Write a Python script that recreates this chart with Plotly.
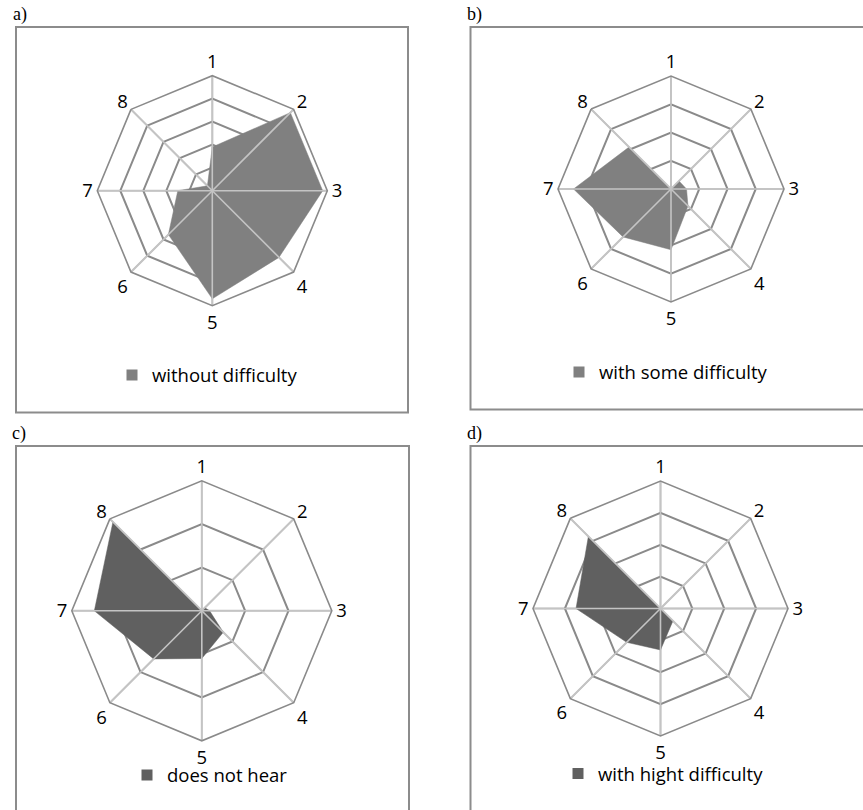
import plotly.graph_objects as go

W, H = 863, 810

# Response categories on the angular axis
categories = ["1", "2", "3", "4", "5", "6", "7", "8"]

# Values per category for each hearing group
without_difficulty = [19, 48, 48, 41, 47, 27, 15, 3]
with_some_difficulty = [0, 4, 5.5, 8.5, 21.5, 24, 34.5, 21]
does_not_hear = [0, 1, 1.8, 7, 11, 15.7, 24.8, 29]
with_hight_difficulty = [0, 0, 0, 5.5, 13, 15, 26.5, 32]

series_names = ["without difficulty", "with some difficulty",
                "does not hear", "with hight difficulty"]
panel_letters = ["a)", "b)", "c)", "d)"]
radial_max = [50, 40, 30, 40]

FONT = "Open Sans"
LIGHT = "#808080"
DARK = "#606060"
RING = "#8a8a8a"
SPOKE = "#c4c4c4"


def px(x):
    return x / W


def py(y):
    return 1 - y / H


# panel geometry in page pixels: centre x, centre y, outer radius
panels = [
    dict(cx=212.3, cy=190.7, R=115, color=LIGHT, values=without_difficulty,
         leg=(152, 375.5), lab=(11, 15), box=(16, 27, 408, 412.5)),
    dict(cx=671.0, cy=189.0, R=113, color=LIGHT, values=with_some_difficulty,
         leg=(599, 372.5), lab=(465, 15), box=(470.5, 27, 880, 409.5)),
    dict(cx=201.8, cy=610.8, R=130, color=DARK, values=does_not_hear,
         leg=(167, 775.5), lab=(10, 433), box=(16, 446, 409, 830)),
    dict(cx=660.5, cy=608.5, R=127.5, color=DARK, values=with_hight_difficulty,
         leg=(598, 774), lab=(465, 433), box=(470.5, 446, 880, 830)),
]

fig = go.Figure()
layout = dict(width=W, height=H, margin=dict(l=0, r=0, t=0, b=0),
              paper_bgcolor="white", plot_bgcolor="white",
              showlegend=True, shapes=[], annotations=[])

for i, p in enumerate(panels):
    sp = "polar" if i == 0 else f"polar{i + 1}"
    lg = "legend" if i == 0 else f"legend{i + 1}"
    vals = p["values"] + p["values"][:1]
    thetas = categories + categories[:1]

    fig.add_trace(go.Scatterpolar(
        r=vals, theta=thetas, subplot=sp, mode="lines", fill="toself",
        fillcolor=p["color"], line=dict(color=p["color"], width=0.5),
        showlegend=False, hoverinfo="skip"))

    # spokes drawn over the filled area
    spoke_r, spoke_t = [], []
    for c in categories:
        spoke_r += [0, radial_max[i], None]
        spoke_t += [c, c, None]
    fig.add_trace(go.Scatterpolar(
        r=spoke_r, theta=spoke_t, subplot=sp, mode="lines",
        line=dict(color=SPOKE, width=1.6), connectgaps=False,
        showlegend=False, hoverinfo="skip"))

    # legend swatch
    fig.add_trace(go.Scatterpolar(
        r=[None], theta=[None], subplot=sp, mode="markers",
        marker=dict(symbol="square", size=11, color=p["color"]),
        name=series_names[i], legend=lg, showlegend=True))

    cx, cy, R = p["cx"], p["cy"], p["R"]
    layout[sp] = dict(
        domain=dict(x=[px(cx - R), px(cx + R)], y=[py(cy + R), py(cy - R)]),
        bgcolor="rgba(0,0,0,0)",
        gridshape="linear",
        radialaxis=dict(range=[0, radial_max[i]], dtick=10, showline=False,
                        showticklabels=False, ticks="", gridcolor=RING,
                        gridwidth=1.6),
        angularaxis=dict(type="category", categoryorder="array",
                         categoryarray=categories, direction="clockwise",
                         rotation=90, showline=True, linecolor=RING,
                         linewidth=1.6, gridcolor=SPOKE, gridwidth=1.6,
                         ticks="",
                         tickfont=dict(family=FONT, size=18.5, color="black"),
                         layer="above traces"),
    )

    lx, ly = p["leg"]
    layout[lg] = dict(x=px(lx - 40), y=py(ly), xanchor="left",
                      yanchor="middle", bgcolor="rgba(0,0,0,0)",
                      borderwidth=0,
                      font=dict(family=FONT, size=18.5, color="black"))

    x0, y0, x1, y1 = p["box"]
    layout["shapes"].append(dict(
        type="rect", xref="paper", yref="paper",
        x0=px(x0), x1=px(x1), y0=py(y1), y1=py(y0),
        line=dict(color="#8c8c8c", width=2), fillcolor="rgba(0,0,0,0)",
        layer="below"))

    ax, ay = p["lab"]
    layout["annotations"].append(dict(
        text=panel_letters[i], xref="paper", yref="paper",
        x=px(ax), y=py(ay), xanchor="left", yanchor="middle",
        showarrow=False,
        font=dict(family="Liberation Serif", size=18, color="black")))

fig.update_layout(**layout)
fig.write_html("out.html")
